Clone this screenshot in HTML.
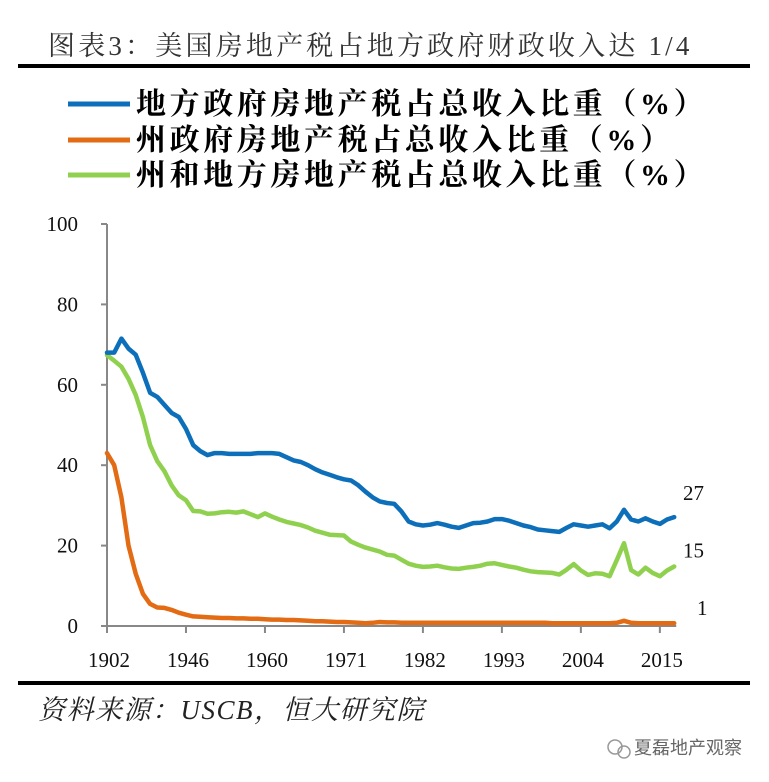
<!DOCTYPE html>
<html><head><meta charset="utf-8"><style>
html,body{margin:0;padding:0;background:#fff;}
svg{display:block;}
.t{font-family:"Liberation Serif","Noto Serif CJK SC",serif;}
</style></head><body>
<svg id="chart" width="769" height="782" viewBox="0 0 769 782" xmlns="http://www.w3.org/2000/svg">
<text class="t" x="48" y="55" font-size="27" letter-spacing="3.2" fill="#333">图表3：美国房地产税占地方政府财政收入达 1/4</text>
<rect x="18" y="64" width="732" height="4" fill="#000"/>
<g>
<g><line x1="68" y1="104" x2="130" y2="104" stroke="#0d6fba" stroke-width="5"/><text class="t" x="136" y="114" font-size="30" letter-spacing="3.6" font-weight="bold" fill="#000">地方政府房地产税占总收入比重（%）</text></g>
<g><line x1="68" y1="140" x2="130" y2="140" stroke="#e26b13" stroke-width="5"/><text class="t" x="136" y="150" font-size="30" letter-spacing="3.6" font-weight="bold" fill="#000">州政府房地产税占总收入比重（%）</text></g>
<g><line x1="68" y1="175" x2="130" y2="175" stroke="#8fd14f" stroke-width="5"/><text class="t" x="136" y="185" font-size="30" letter-spacing="3.6" font-weight="bold" fill="#000">州和地方房地产税占总收入比重（%）</text></g>
</g>
<g id="axes"></g>
<g id="series"></g>
<rect x="18" y="681" width="732" height="4" fill="#000"/>
<text class="t" x="38" y="719" font-size="27" letter-spacing="1.5" font-style="italic" fill="#222">资料来源：USCB，恒大研究院</text>
<g>
<circle cx="615" cy="747" r="7" fill="none" stroke="#999" stroke-width="1.5"/>
<circle cx="624" cy="752" r="6" fill="none" stroke="#999" stroke-width="1.5"/>
<text x="634" y="754" font-family="'Noto Sans CJK SC',sans-serif" font-size="18" fill="#666">夏磊地产观察</text>
</g>
</svg>
<script>
const xLabels=["1902","1946","1960","1971","1982","1993","2004","2015"];
const yTicks=[0,20,40,60,80,100];
const localShare=[68,68,71.5,69,67.5,63,58,57,55,53,52,49,45,43.5,42.5,43,43,42.8,42.8,42.8,42.8,43,43,43,42.8,42,41.2,40.8,40,39,38.2,37.6,37,36.5,36.2,35,33.4,32,31,30.6,30.4,28.5,26,25.3,25,25.2,25.6,25.2,24.7,24.4,25,25.6,25.7,26,26.6,26.6,26.2,25.6,25,24.6,24,23.8,23.6,23.4,24.4,25.3,25,24.7,25,25.3,24.3,26,28.9,26.5,26,26.8,26,25.4,26.5,27.1];
const stateShare=[43,40,32,20,13,8,5.5,4.6,4.5,4,3.3,2.8,2.4,2.3,2.2,2.1,2,2,1.9,1.9,1.8,1.8,1.7,1.6,1.6,1.5,1.5,1.4,1.3,1.2,1.2,1.1,1,1,0.9,0.8,0.7,0.8,1,0.9,0.9,0.8,0.8,0.8,0.8,0.8,0.8,0.8,0.8,0.8,0.8,0.8,0.8,0.8,0.8,0.8,0.8,0.8,0.8,0.8,0.8,0.8,0.7,0.7,0.7,0.7,0.7,0.7,0.7,0.7,0.7,0.8,1.3,0.8,0.7,0.7,0.7,0.7,0.7,0.7];
const combinedShare=[67.4,66,64.5,61.5,57.5,52,45,41,38.5,35,32.5,31.3,28.6,28.5,27.9,28,28.3,28.4,28.2,28.5,27.8,27.1,28,27.2,26.5,25.9,25.5,25.1,24.5,23.7,23.2,22.7,22.6,22.5,21,20.2,19.5,19,18.5,17.7,17.5,16.5,15.5,15,14.7,14.8,15,14.6,14.3,14.2,14.5,14.7,15,15.5,15.6,15.2,14.8,14.5,14,13.6,13.4,13.3,13.2,12.8,14,15.4,13.8,12.7,13.1,13,12.4,16.4,20.6,13.9,12.8,14.5,13.2,12.4,13.8,14.8];
const endLabels=["27","15","1"];
const NS="http://www.w3.org/2000/svg";
const X0=107,DX=7.18,Y0=626,YS=4.02,TICKSTEP=11;
const xs=i=>X0+i*DX, ys=v=>Y0-v*YS;
function mk(tag,attrs,parent){const e=document.createElementNS(NS,tag);for(const k in attrs)e.setAttribute(k,attrs[k]);parent.appendChild(e);return e;}
const ax=document.getElementById('axes'), sr=document.getElementById('series');
const yl=mk('line',{x1:X0,y1:ys(100),x2:X0,y2:Y0,stroke:'#888','stroke-width':2},ax);


const xl=mk('line',{x1:X0,y1:Y0,x2:xs(localShare.length-1)+2,y2:Y0,stroke:'#888','stroke-width':2},ax);


yTicks.forEach(v=>{
  mk('line',{x1:X0-6,y1:ys(v),x2:X0,y2:ys(v),stroke:'#888','stroke-width':2},ax);
  const t=mk('text',{x:78,y:ys(v)+7,'text-anchor':'end','font-size':21,fill:'#111',class:'t'},ax);
  t.textContent=v;
  
  
});
xLabels.forEach((l,k)=>{
  const x=xs(k*TICKSTEP);
  mk('line',{x1:x,y1:Y0,x2:x,y2:Y0+7,stroke:'#888','stroke-width':2},ax);
  const t=mk('text',{x:x+2,y:667,'text-anchor':'middle','font-size':21,fill:'#111',class:'t'},ax);
  t.textContent=l;
  
  
});
const defs=[[combinedShare,'#8fd14f','line-combined'],[stateShare,'#e26b13','line-state'],[localShare,'#0d6fba','line-local']];
defs.forEach(([arr,c,n])=>{
  const p=mk('polyline',{points:arr.map((v,i)=>xs(i).toFixed(1)+','+ys(v).toFixed(1)).join(' '),fill:'none',stroke:c,'stroke-width':4.5,'stroke-linejoin':'round','stroke-linecap':'round'},sr);
  
  
});
const lastVals=[localShare[localShare.length-1],combinedShare[combinedShare.length-1],stateShare[stateShare.length-1]];
const lx=[683,683,697], ly=[ys(lastVals[0])-17,ys(lastVals[1])-9,ys(lastVals[2])-8];
endLabels.forEach((l,k)=>{
  const t=mk('text',{x:lx[k],y:ly[k],'font-size':21,fill:'#111',class:'t'},sr);
  t.textContent=l;
  
  
});
</script>
</body></html>
